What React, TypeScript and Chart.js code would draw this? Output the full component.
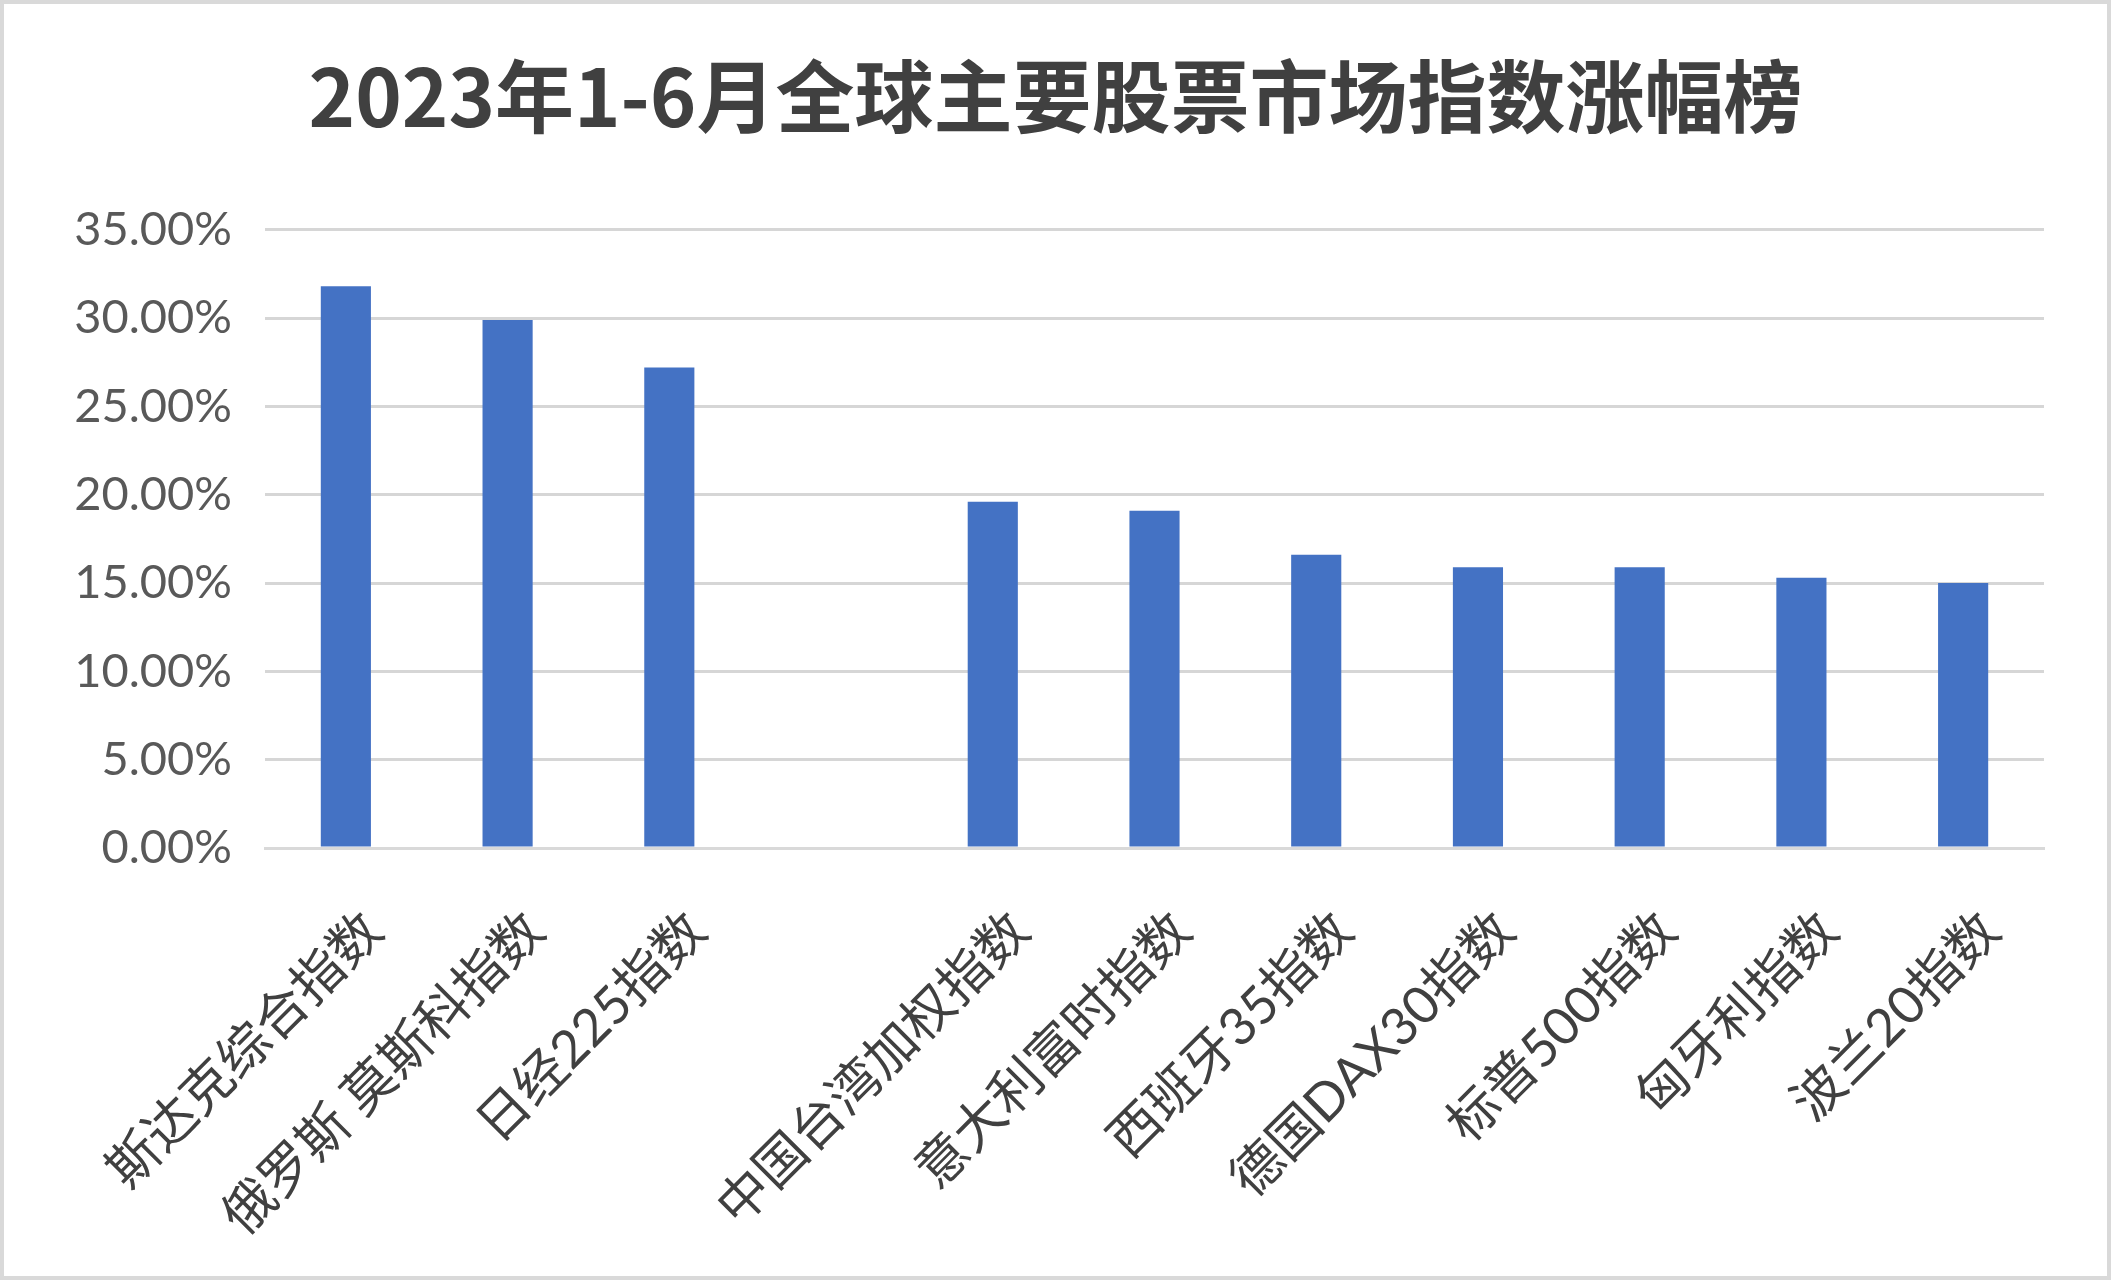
import { useEffect, useRef } from "react";
import { Chart, registerables } from "chart.js";

Chart.register(...registerables);

const chartTitle = "2023年1-6月全球主要股票市场指数涨幅榜";

// one empty slot sits between the Nikkei and Taiwan bars, as in the source
const indexNames = [
  "斯达克综合指数",
  "俄罗斯 莫斯科指数",
  "日经225指数",
  "",
  "中国台湾加权指数",
  "意大利富时指数",
  "西班牙35指数",
  "德国DAX30指数",
  "标普500指数",
  "匈牙利指数",
  "波兰20指数",
];

// gain in percent, Jan–Jun 2023
const gains = [31.8, 29.9, 27.2, null, 19.6, 19.1, 16.6, 15.9, 15.9, 15.3, 15.0];

const yTicks = [0, 5, 10, 15, 20, 25, 30, 35];

export default function App() {
  const canvasRef = useRef<HTMLCanvasElement>(null);

  useEffect(() => {
    document.body.style.margin = "0";
    if (!canvasRef.current) return;
    const ctx = canvasRef.current.getContext("2d");
    if (!ctx) return;

    const chart = new Chart(ctx, {
      type: "bar",
      data: {
        labels: indexNames,
        datasets: [
          {
            data: gains,
            backgroundColor: "#4472c4",
            borderWidth: 0,
            barPercentage: 0.31,
            categoryPercentage: 1,
          },
        ],
      },
      options: {
        responsive: false,
        animation: false,
        layout: {
          padding: { top: 0, left: 67, right: 67, bottom: 0 },
        },
        plugins: {
          legend: { display: false },
          tooltip: { enabled: false },
          title: {
            display: true,
            text: chartTitle,
            color: "#404040",
            font: { family: "'Noto Sans CJK SC', sans-serif", size: 79, weight: "bold" },
            padding: { top: 50, bottom: 85 },
          },
        },
        scales: {
          x: {
            grid: { display: false },
            border: { display: true, color: "#d9d9d9", width: 3 },
            ticks: {
              autoSkip: false,
              maxRotation: 45,
              minRotation: 45,
              padding: 44,
              labelOffset: 28,
              color: "#404040",
              font: { family: "Lato, 'Noto Sans CJK SC', sans-serif", size: 52 },
            },
            afterFit: (scale: any) => {
              scale.height = 432;
            },
          },
          y: {
            min: 0,
            max: 35,
            afterBuildTicks: (scale: any) => {
              scale.ticks = yTicks.map((v) => ({ value: v }));
            },
            grid: { color: "#d6d6d6", lineWidth: 3, drawTicks: false },
            border: { display: false },
            ticks: {
              padding: 33,
              color: "#595959",
              font: { family: "Lato, sans-serif", size: 47 },
              callback: (v: any) => Number(v).toFixed(2) + "%",
            },
            afterFit: (scale: any) => {
              scale.width = 198;
            },
          },
        },
      },
    });

    return () => {
      chart.destroy();
    };
  }, []);

  return (
    <div style={{ position: "relative", width: 2111, height: 1280, background: "#fff" }}>
      <canvas ref={canvasRef} width={2111} height={1280} style={{ display: "block" }} />
      <div
        style={{
          position: "absolute",
          inset: 0,
          border: "4px solid #d9d9d9",
          pointerEvents: "none",
        }}
      />
    </div>
  );
}
